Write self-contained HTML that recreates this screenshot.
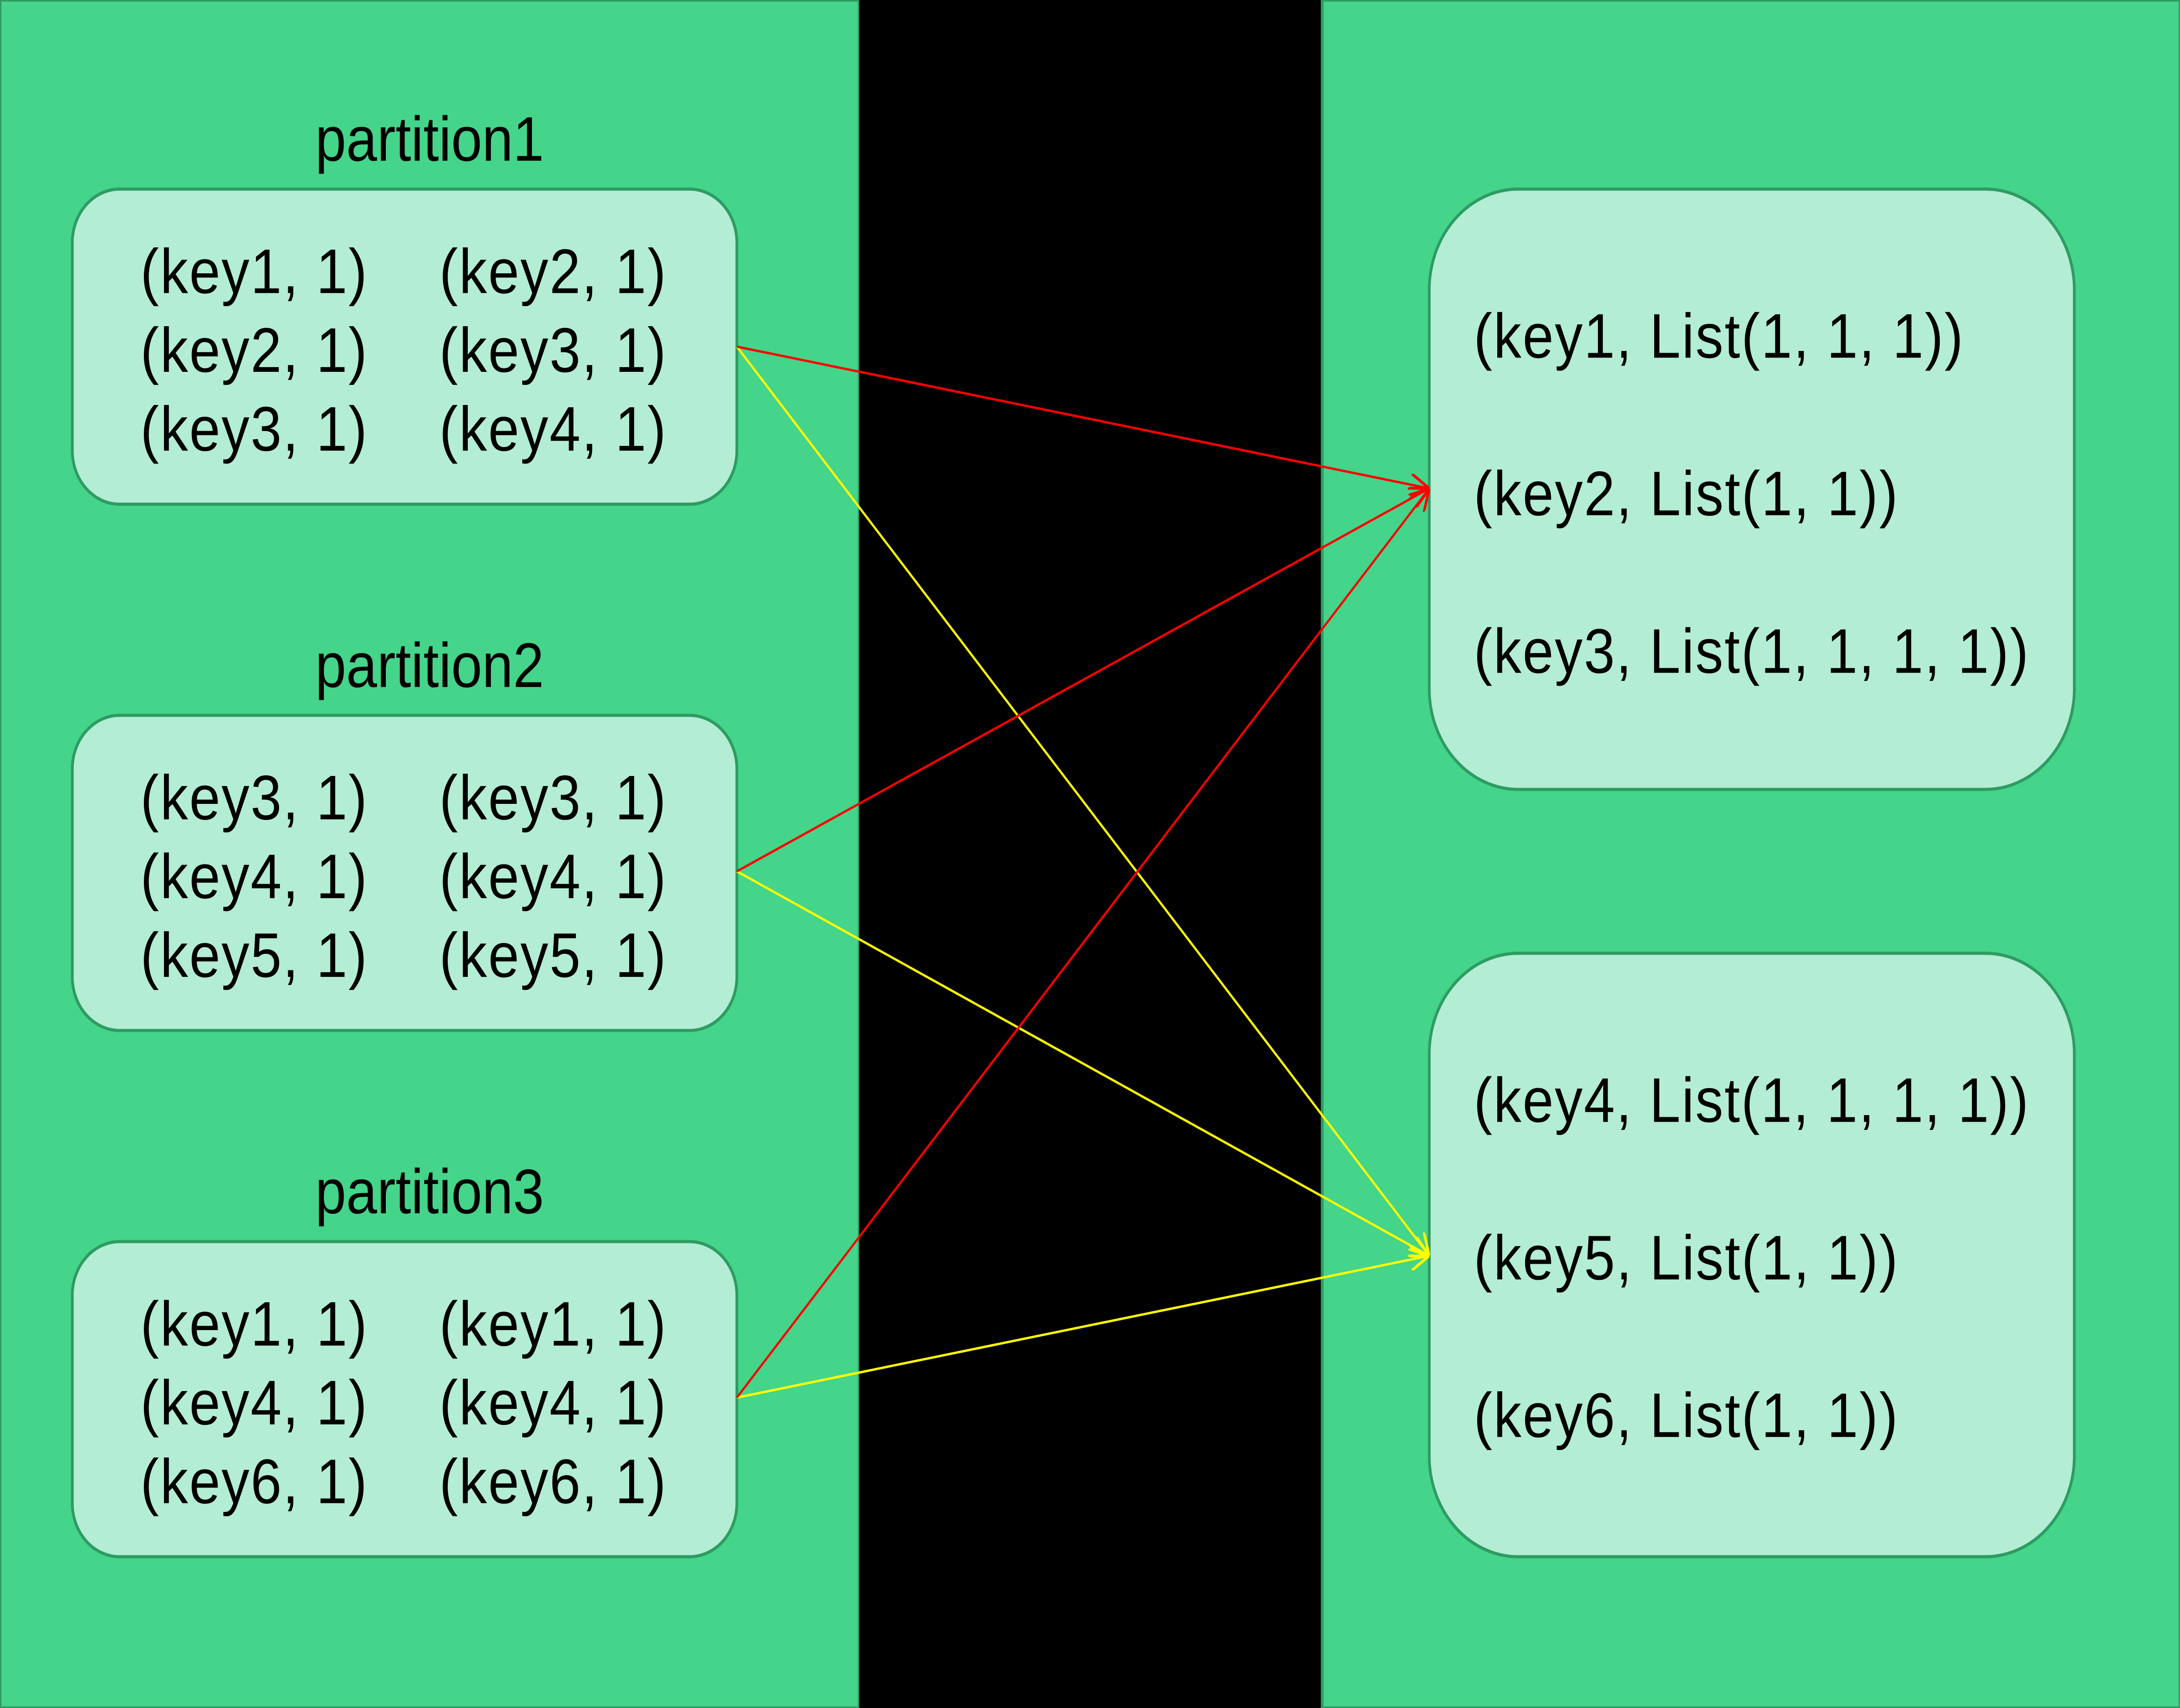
<!DOCTYPE html>
<html><head><meta charset="utf-8"><style>html,body{margin:0;padding:0;width:100%;height:100%;overflow:hidden;background:#44d48a}svg{position:absolute;left:0;top:0;width:100vw;height:100vh}</style></head><body>
<svg viewBox="0 0 1568 1084" preserveAspectRatio="none" xmlns="http://www.w3.org/2000/svg" font-family="Liberation Sans, sans-serif">
<rect x="0" y="0" width="618" height="1084" fill="#44d48a" stroke="#2e9b63" stroke-width="2"/>
<rect x="618" y="0" width="333" height="1084" fill="#000"/>
<rect x="951" y="0" width="617" height="1084" fill="#44d48a" stroke="#2e9b63" stroke-width="2"/>
<g fill="#b3edd3" stroke="#2e9b63" stroke-width="2">
<rect x="52" y="120" width="478" height="200" rx="34"/>
<rect x="52" y="454" width="478" height="200" rx="34"/>
<rect x="52" y="788" width="478" height="200" rx="34"/>
<rect x="1028" y="120" width="464" height="381" rx="64"/>
<rect x="1028" y="605" width="464" height="383" rx="64"/>
</g>
<g font-size="40" fill="#000" text-anchor="middle">
<text x="309" y="102">partition1</text>
<text x="309" y="436">partition2</text>
<text x="309" y="770">partition3</text>
</g>
<g font-size="40" fill="#000">
<text x="101" y="186" textLength="163">(key1, 1)</text><text x="316" y="186" textLength="163">(key2, 1)</text>
<text x="101" y="236" textLength="163">(key2, 1)</text><text x="316" y="236" textLength="163">(key3, 1)</text>
<text x="101" y="286" textLength="163">(key3, 1)</text><text x="316" y="286" textLength="163">(key4, 1)</text>
<text x="101" y="520" textLength="163">(key3, 1)</text><text x="316" y="520" textLength="163">(key3, 1)</text>
<text x="101" y="570" textLength="163">(key4, 1)</text><text x="316" y="570" textLength="163">(key4, 1)</text>
<text x="101" y="620" textLength="163">(key5, 1)</text><text x="316" y="620" textLength="163">(key5, 1)</text>
<text x="101" y="854" textLength="163">(key1, 1)</text><text x="316" y="854" textLength="163">(key1, 1)</text>
<text x="101" y="904" textLength="163">(key4, 1)</text><text x="316" y="904" textLength="163">(key4, 1)</text>
<text x="101" y="954" textLength="163">(key6, 1)</text><text x="316" y="954" textLength="163">(key6, 1)</text>
<text x="1060" y="227" textLength="352">(key1, List(1, 1, 1))</text>
<text x="1060" y="327" textLength="305">(key2, List(1, 1))</text>
<text x="1060" y="427" textLength="399">(key3, List(1, 1, 1, 1))</text>
<text x="1060" y="712" textLength="399">(key4, List(1, 1, 1, 1))</text>
<text x="1060" y="812" textLength="305">(key5, List(1, 1))</text>
<text x="1060" y="912" textLength="305">(key6, List(1, 1))</text>
</g>
<defs>
<marker id="r" viewBox="0 0 10 10" refX="10" refY="5" markerWidth="14" markerHeight="14" markerUnits="userSpaceOnUse" orient="auto"><path d="M0,0 L10,5 L0,10" fill="none" stroke="#ff0000" stroke-width="1.3"/></marker>
<marker id="y" viewBox="0 0 10 10" refX="10" refY="5" markerWidth="14" markerHeight="14" markerUnits="userSpaceOnUse" orient="auto"><path d="M0,0 L10,5 L0,10" fill="none" stroke="#ffff00" stroke-width="1.3"/></marker>
</defs>
<g stroke-width="1.5" fill="none">
<line x1="530" y1="220" x2="1028" y2="797" stroke="#ffff00" marker-end="url(#y)"/>
<line x1="530" y1="553" x2="1028" y2="797" stroke="#ffff00" marker-end="url(#y)"/>
<line x1="530" y1="887" x2="1028" y2="797" stroke="#ffff00" marker-end="url(#y)"/>
<line x1="530" y1="220" x2="1028" y2="310" stroke="#ff0000" marker-end="url(#r)"/>
<line x1="530" y1="553" x2="1028" y2="310" stroke="#ff0000" marker-end="url(#r)"/>
<line x1="530" y1="887" x2="1028" y2="310" stroke="#ff0000" marker-end="url(#r)"/>
</g>
</svg>
</body></html>
